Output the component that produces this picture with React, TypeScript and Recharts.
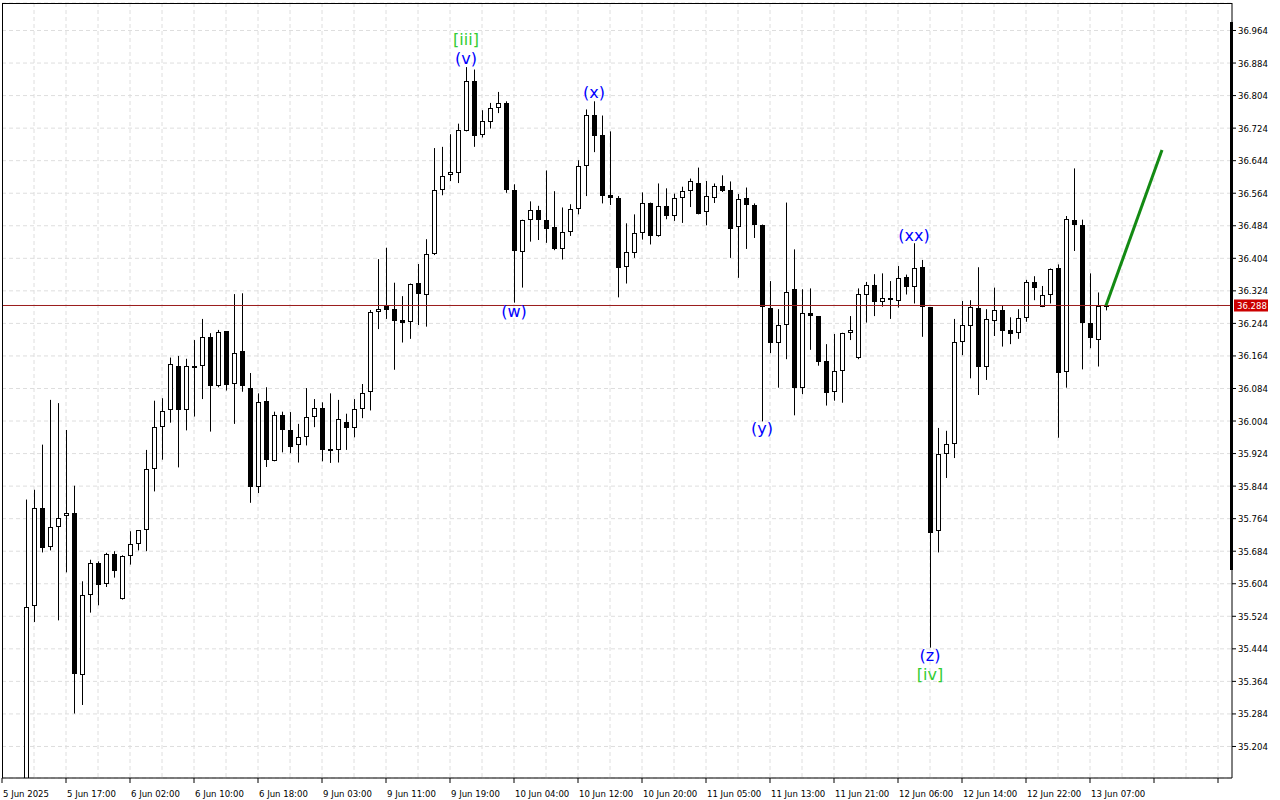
import React from 'react';
import { ComposedChart, Bar, Line, XAxis, YAxis, CartesianGrid, ReferenceLine, ReferenceDot } from 'recharts';

// H1 candles, index 0 = 5 Jun 12:00
const opens = [35.10,35.549,35.790,35.695,35.744,35.770,35.778,35.380,35.576,35.655,35.604,35.678,35.567,35.672,35.702,35.735,35.886,35.989,36.031,36.139,36.031,36.139,36.139,36.210,36.089,36.225,36.095,36.176,36.085,35.843,36.054,35.905,36.019,35.982,35.944,35.965,36.015,36.036,35.935,35.933,36.001,35.986,36.033,36.076,36.273,36.287,36.279,36.252,36.248,36.344,36.315,36.414,36.573,36.610,36.614,36.717,36.839,36.707,36.739,36.774,36.787,36.573,36.420,36.498,36.522,36.499,36.480,36.426,36.469,36.524,36.631,36.757,36.706,36.559,36.553,36.382,36.418,36.465,36.541,36.459,36.532,36.508,36.553,36.569,36.590,36.517,36.553,36.581,36.571,36.481,36.553,36.536,36.487,36.281,36.197,36.240,36.328,36.085,36.269,36.261,36.152,36.075,36.127,36.220,36.158,36.315,36.338,36.297,36.306,36.300,36.357,36.333,36.382,36.284,35.733,35.923,35.948,36.198,36.238,36.281,36.138,36.251,36.277,36.228,36.220,36.257,36.345,36.284,36.313,36.379,36.124,36.499,36.487,36.244,36.203,36.287];
const highs = [35.811,35.835,35.946,36.056,36.048,35.982,35.845,35.610,35.663,35.659,35.680,35.684,35.674,35.733,35.735,35.933,36.054,36.060,36.160,36.164,36.157,36.203,36.255,36.220,36.228,36.225,36.316,36.318,36.122,36.072,36.087,36.027,36.027,36.026,35.997,36.085,36.058,36.050,36.072,36.056,36.022,36.058,36.095,36.277,36.402,36.430,36.344,36.311,36.342,36.390,36.451,36.675,36.678,36.709,36.735,36.874,36.868,36.768,36.786,36.813,36.790,36.586,36.499,36.544,36.533,36.620,36.569,36.529,36.537,36.645,36.770,36.790,36.755,36.716,36.557,36.490,36.512,36.566,36.541,36.588,36.576,36.563,36.580,36.600,36.627,36.594,36.588,36.608,36.593,36.562,36.578,36.539,36.487,36.348,36.279,36.541,36.426,36.328,36.330,36.261,36.193,36.218,36.221,36.262,36.330,36.346,36.365,36.367,36.348,36.385,36.364,36.441,36.400,36.284,35.987,35.980,36.255,36.299,36.301,36.382,36.279,36.332,36.289,36.259,36.279,36.351,36.360,36.336,36.379,36.389,36.508,36.625,36.499,36.367,36.320,36.289];
const lows = [35.05,35.510,35.681,35.686,35.514,35.632,35.285,35.306,35.533,35.551,35.596,35.619,35.565,35.651,35.686,35.684,35.831,35.909,36.000,35.890,35.981,36.015,36.058,35.978,36.087,36.079,35.997,36.076,35.803,35.827,35.891,35.905,35.927,35.925,35.902,35.944,35.989,35.905,35.901,35.902,35.933,35.964,36.011,36.030,36.230,36.255,36.130,36.197,36.206,36.240,36.236,36.412,36.559,36.594,36.589,36.716,36.678,36.701,36.723,36.761,36.565,36.295,36.332,36.445,36.449,36.442,36.424,36.401,36.459,36.512,36.557,36.665,36.539,36.535,36.308,36.342,36.405,36.450,36.438,36.457,36.500,36.496,36.491,36.530,36.512,36.485,36.540,36.567,36.405,36.356,36.427,36.454,36.003,36.171,36.086,36.156,36.018,36.070,36.179,36.140,36.042,36.054,36.049,36.203,36.156,36.246,36.262,36.285,36.255,36.283,36.315,36.293,36.211,35.447,35.681,35.864,35.913,36.166,36.109,36.068,36.105,36.213,36.187,36.193,36.206,36.248,36.301,36.284,36.293,35.963,36.086,36.422,36.131,36.183,36.138,36.276];
const closes = [35.546,35.790,35.692,35.744,35.766,35.778,35.381,35.576,35.654,35.600,35.677,35.635,35.672,35.702,35.735,35.886,35.990,36.028,36.144,36.031,36.139,36.139,36.211,36.089,36.222,36.093,36.171,36.089,35.843,36.052,35.907,36.019,35.981,35.941,35.965,36.015,36.036,35.933,35.931,36.009,35.986,36.033,36.072,36.271,36.279,36.278,36.251,36.246,36.342,36.316,36.414,36.573,36.607,36.615,36.719,36.839,36.704,36.741,36.774,36.787,36.573,36.422,36.498,36.522,36.499,36.477,36.426,36.469,36.524,36.631,36.757,36.705,36.557,36.553,36.379,36.419,36.465,36.541,36.459,36.532,36.508,36.553,36.569,36.593,36.514,36.557,36.581,36.570,36.476,36.551,36.536,36.487,36.284,36.197,36.240,36.322,36.086,36.269,36.261,36.150,36.072,36.127,36.220,36.228,36.316,36.338,36.297,36.306,36.301,36.355,36.333,36.379,36.284,35.729,35.923,35.948,36.198,36.240,36.284,36.138,36.254,36.277,36.226,36.217,36.257,36.345,36.332,36.313,36.377,36.123,36.501,36.487,36.244,36.207,36.287,36.288];

const xTickIndex = [-3,5,13,21,29,37,45,53,61,69,77,85,93,101,109,117,125,133,141,149];
const xTickLabels = ['5 Jun 2025','5 Jun 17:00','6 Jun 02:00','6 Jun 10:00','6 Jun 18:00','9 Jun 03:00','9 Jun 11:00','9 Jun 19:00','10 Jun 04:00','10 Jun 12:00','10 Jun 20:00','11 Jun 05:00','11 Jun 13:00','11 Jun 21:00','12 Jun 06:00','12 Jun 14:00','12 Jun 22:00','13 Jun 07:00','',''];
const yTicks = [35.204,35.284,35.364,35.444,35.524,35.604,35.684,35.764,35.844,35.924,36.004,36.084,36.164,36.244,36.324,36.404,36.484,36.564,36.644,36.724,36.804,36.884,36.964];
const gridIndex = [1,5,9,13,17,21,25,29,33,37,41,45,49,53,57,61,65,69,73,77,81,85,89,93,97,101,105,109,113,117,121,125,129,133,137,141,145,149];
const projIndex = [135, 142];
const projValues = [36.288, 36.670];
const currentPrice = 36.288;
const waveText = ['[iii]','(v)','(w)','(x)','(y)','(xx)','(z)','[iv]'];
const waveIndex = [55,55,61,71,92,111,113,113];
const wavePrice = [36.942,36.895,36.274,36.812,35.985,36.461,35.428,35.381];
const waveColor = ['#33cc33','#0000ff','#0000ff','#0000ff','#0000ff','#0000ff','#0000ff','#33cc33'];

const X_DOMAIN: [number, number] = [-3, 150.75];
const Y_DOMAIN: [number, number] = [35.1265, 37.0316];
const FONT = "'DejaVu Sans Condensed', 'DejaVu Sans', sans-serif";

type Row = { i: number; o?: number; h?: number; l?: number; c?: number; range?: [number, number]; proj?: number };
const rows: Row[] = opens.map((o, k) => ({ i: k, o, h: highs[k], l: lows[k], c: closes[k], range: [lows[k], highs[k]] as [number, number] }));
projIndex.forEach((pi, k) => {
  const r = rows.find((q) => q.i === pi);
  if (r) r.proj = projValues[k];
  else rows.push({ i: pi, proj: projValues[k] });
});

const Candle = (props: any) => {
  const { x, y, width, height, payload } = props;
  if (!payload || payload.h == null) return null;
  const { o, h, l, c } = payload;
  const top = Math.min(y, y + height);
  const span = Math.abs(height);
  const k = h - l > 0 ? span / (h - l) : 0;
  const py = (p: number) => top + (h - p) * k;
  const cx = Math.round(x + width / 2) + 0.5;
  const bull = c >= o;
  let bt = Math.round(py(Math.max(o, c)));
  let bb = Math.round(py(Math.min(o, c)));
  const wt = py(h);
  const wb = py(l);
  if (bb - bt < 1) bb = bt + 1;
  return (
    <g>
      <line x1={cx} x2={cx} y1={wt} y2={wb} stroke="#000" strokeWidth={1} />
      {bull ? (
        bb - bt <= 2 ? (
          <rect x={cx - 2.5} y={bt} width={5} height={bb - bt + 1} fill="#000" />
        ) : (
          <rect x={cx - 2} y={bt + 0.5} width={4} height={bb - bt - 1} fill="#fff" stroke="#000" strokeWidth={1} />
        )
      ) : (
        <rect x={cx - 2.5} y={bt} width={5} height={Math.max(bb - bt, 1)} fill="#000" />
      )}
    </g>
  );
};

const XTick = (props: any) => {
  const { x, y, payload } = props;
  const idx = xTickIndex.indexOf(payload.value);
  const label = idx >= 0 ? xTickLabels[idx] : '';
  return (
    <text x={x + 1} y={y + 12} textAnchor="start" fontSize={9.5} fontFamily={FONT} fill="#000">
      {label}
    </text>
  );
};

const YTick = (props: any) => {
  const { x, y, payload } = props;
  return (
    <text x={x} y={y + 3.5} textAnchor="start" fontSize={9.5} fontFamily={FONT} fill="#000">
      {Number(payload.value).toFixed(3)}
    </text>
  );
};

const PriceTag = (props: any) => {
  const vb = props.viewBox || {};
  const xr = (vb.x || 0) + (vb.width || 0);
  const yy = vb.y || 0;
  return (
    <g>
      <rect x={xr + 2} y={yy - 6} width={34} height={12} fill="#cc0000" />
      <text x={xr + 5} y={yy + 3.5} fontSize={9.5} fontFamily={FONT} fill="#fff">
        {currentPrice.toFixed(3)}
      </text>
    </g>
  );
};

const verticalGrid = (args: any) => {
  const xAxis = args && args.xAxis;
  const s = xAxis && typeof xAxis.scale === 'function' ? xAxis.scale : null;
  if (s) return gridIndex.map((g) => s(g));
  const off = (args && args.offset) || { left: 2, width: 1230 };
  const span = X_DOMAIN[1] - X_DOMAIN[0];
  return gridIndex.map((g) => off.left + ((g - X_DOMAIN[0]) / span) * off.width);
};

export default function App() {
  return (
    <div style={{ position: 'absolute', left: 0, top: 0, width: 1280, height: 800, background: '#fff', overflow: 'hidden' }}>
      <ComposedChart width={1280} height={800} data={rows} margin={{ top: 3, right: 0, bottom: 0, left: 2 }}>
        <CartesianGrid
          horizontal={true}
          vertical={true}
          verticalCoordinatesGenerator={verticalGrid}
          stroke="#dedede"
          strokeDasharray="4 3"
        />
        <XAxis
          dataKey="i"
          type="number"
          domain={X_DOMAIN}
          allowDataOverflow
          ticks={xTickIndex}
          interval={0}
          height={22}
          tick={<XTick />}
          tickSize={5}
          tickLine={{ stroke: '#000' }}
          axisLine={{ stroke: '#000' }}
        />
        <YAxis
          orientation="right"
          type="number"
          domain={Y_DOMAIN}
          allowDataOverflow
          ticks={yTicks}
          interval={0}
          width={48}
          tick={<YTick />}
          tickSize={4}
          tickMargin={2}
          tickLine={{ stroke: '#000' }}
          axisLine={{ stroke: '#000' }}
        />
        <ReferenceLine y={currentPrice} stroke="#9a1c1c" strokeWidth={1} label={<PriceTag />} />
        <Bar dataKey="range" barSize={5} shape={<Candle />} isAnimationActive={false} />
        <Line dataKey="proj" stroke="#138a13" strokeWidth={3} dot={false} connectNulls isAnimationActive={false} />
        {waveText.map((t, k) => (
          <ReferenceDot
            key={'w' + k}
            x={waveIndex[k]}
            y={wavePrice[k]}
            r={0}
            shape={(p: any) => (
              <text x={p.cx} y={p.cy} textAnchor="middle" dominantBaseline="central" fontSize={16} fontFamily="'DejaVu Sans', sans-serif" fill={waveColor[k]}>
                {t}
              </text>
            )}
          />
        ))}
      </ComposedChart>
      <div style={{ position: 'absolute', left: 2, top: 3, width: 1230, height: 1, background: '#000' }} />
      <div style={{ position: 'absolute', left: 2, top: 3, width: 1, height: 775, background: '#000' }} />
      <div style={{ position: 'absolute', left: 1230, top: 22, width: 3, height: 548, background: '#000' }} />
    </div>
  );
}
